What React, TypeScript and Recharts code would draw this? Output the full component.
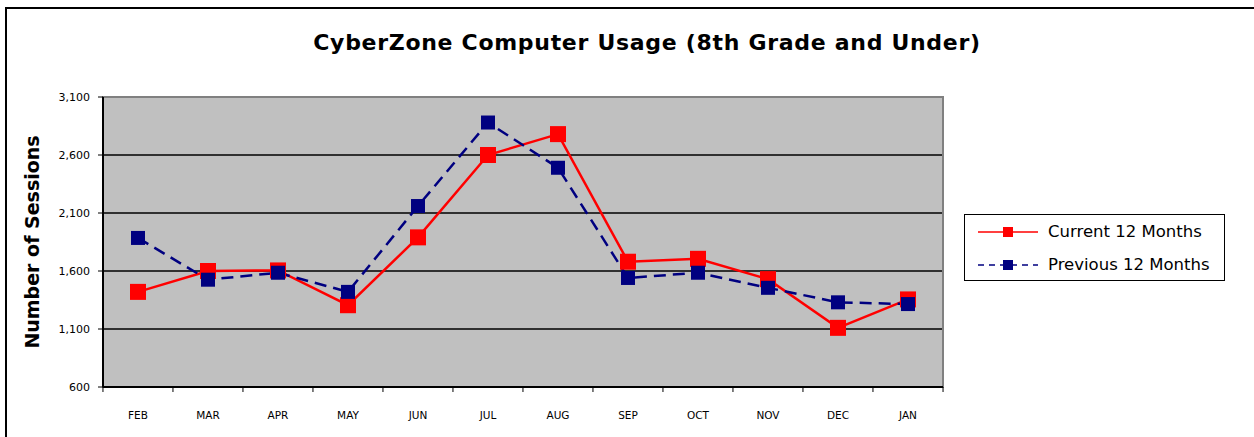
import { LineChart, Line, XAxis, YAxis, CartesianGrid, ReferenceArea, Legend, Label } from "recharts"

const months = ["FEB", "MAR", "APR", "MAY", "JUN", "JUL", "AUG", "SEP", "OCT", "NOV", "DEC", "JAN"]
const current = [1420, 1600, 1605, 1305, 1890, 2600, 2780, 1680, 1705, 1530, 1110, 1355]
const previous = [1885, 1525, 1585, 1420, 2160, 2880, 2490, 1540, 1585, 1455, 1330, 1315]
const yTicks = [600, 1100, 1600, 2100, 2600, 3100]

const data = months.map((m, i) => ({ month: m, current: current[i], previous: previous[i] }))

const font = "'DejaVu Sans', Verdana, sans-serif"

function Square(props: any) {
  const { cx, cy, fill, size } = props
  if (cx == null || cy == null) return null
  return <rect x={cx - size / 2} y={cy - size / 2} width={size} height={size} fill={fill} />
}

function MonthTick(props: any) {
  const { x, y, payload, index } = props
  const band = 841 / months.length
  return (
    <g>
      <line x1={x - band / 2} y1={387} x2={x - band / 2} y2={392} stroke="#000" strokeWidth={1} />
      {index === months.length - 1 && (
        <line x1={x + band / 2} y1={387} x2={x + band / 2} y2={392} stroke="#000" strokeWidth={1} />
      )}
      <text x={x} y={y + 24} textAnchor="middle" fontSize={10.5} fontFamily={font} fill="#000">
        {payload.value}
      </text>
    </g>
  )
}

function LegendBox() {
  const row = (color: string, dash: string | undefined, size: number, text: string) => (
    <div style={{ display: "flex", alignItems: "center", height: 33 }}>
      <svg width={62} height={14} style={{ marginRight: 9 }}>
        <line x1={1} y1={7} x2={61} y2={7} stroke={color} strokeWidth={1.5} strokeDasharray={dash} />
        <rect x={31 - size / 2} y={7 - size / 2} width={size} height={size} fill={color} />
      </svg>
      <span>{text}</span>
    </div>
  )
  return (
    <div
      style={{
        border: "1px solid #000",
        background: "#fff",
        width: 261,
        height: 67,
        padding: "0 0 0 12px",
        boxSizing: "border-box",
        fontFamily: font,
        fontSize: 16.5,
        color: "#000",
      }}
    >
      {row("#ff0000", undefined, 10, "Current 12 Months")}
      {row("#000080", "6 5", 10, "Previous 12 Months")}
    </div>
  )
}

export default function App() {
  return (
    <div style={{ position: "absolute", left: 0, top: 0, width: 1254, height: 437, background: "#fff", overflow: "hidden" }}>
      <div
        style={{
          position: "absolute",
          left: 5,
          top: 7,
          width: 1260,
          height: 440,
          borderTop: "2px solid #000",
          borderLeft: "2px solid #000",
        }}
      />
      <div
        style={{
          position: "absolute",
          left: 0,
          top: 30,
          width: 1294,
          textAlign: "center",
          fontFamily: font,
          fontWeight: "bold",
          fontSize: 22,
          letterSpacing: 0.7,
          color: "#000",
        }}
      >
        CyberZone Computer Usage (8th Grade and Under)
      </div>
      <div style={{ position: "absolute", left: 0, top: 0 }}>
        <LineChart width={1254} height={437} data={data} margin={{ top: 97, right: 311, bottom: 20, left: 43 }}>
          <CartesianGrid vertical={false} stroke="#000" strokeWidth={1.5} fill="#c0c0c0" horizontalValues={[1100, 1600, 2100, 2600]} />
          <ReferenceArea y1={600} y2={3100} fill="none" stroke="#808080" strokeWidth={2} />
          <XAxis
            dataKey="month"
            scale="band"
            height={30}
            axisLine={{ stroke: "#000", strokeWidth: 2 }}
            tickLine={false}
            tick={<MonthTick />}
            interval={0}
          />
          <YAxis
            width={60}
            domain={[600, 3100]}
            ticks={yTicks}
            interval={0}
            axisLine={{ stroke: "#000", strokeWidth: 2 }}
            tickLine={{ stroke: "#000" }}
            tickSize={5}
            tickMargin={8}
            tick={{ fontSize: 11, fontFamily: font, fill: "#000" }}
            tickFormatter={(v: number) => v.toLocaleString("en-US")}
          >
            <Label
              value="Number of Sessions"
              angle={-90}
              position="insideLeft"
              offset={-11}
              style={{ fontFamily: font, fontWeight: "bold", fontSize: 19, fill: "#000", textAnchor: "middle" }}
            />
          </YAxis>
          <Legend
            layout="horizontal"
            verticalAlign="middle"
            align="center"
            content={<LegendBox />}
            wrapperStyle={{ left: 964, top: 214, width: 261 }}
          />
          <Line
            type="linear"
            dataKey="current"
            stroke="#ff0000"
            strokeWidth={2.5}
            dot={<Square size={16} />}
            fill="#ff0000"
            isAnimationActive={false}
          />
          <Line
            type="linear"
            dataKey="previous"
            stroke="#000080"
            strokeWidth={2.5}
            strokeDasharray="12 7"
            dot={<Square size={14} />}
            fill="#000080"
            isAnimationActive={false}
          />
        </LineChart>
      </div>
    </div>
  )
}
